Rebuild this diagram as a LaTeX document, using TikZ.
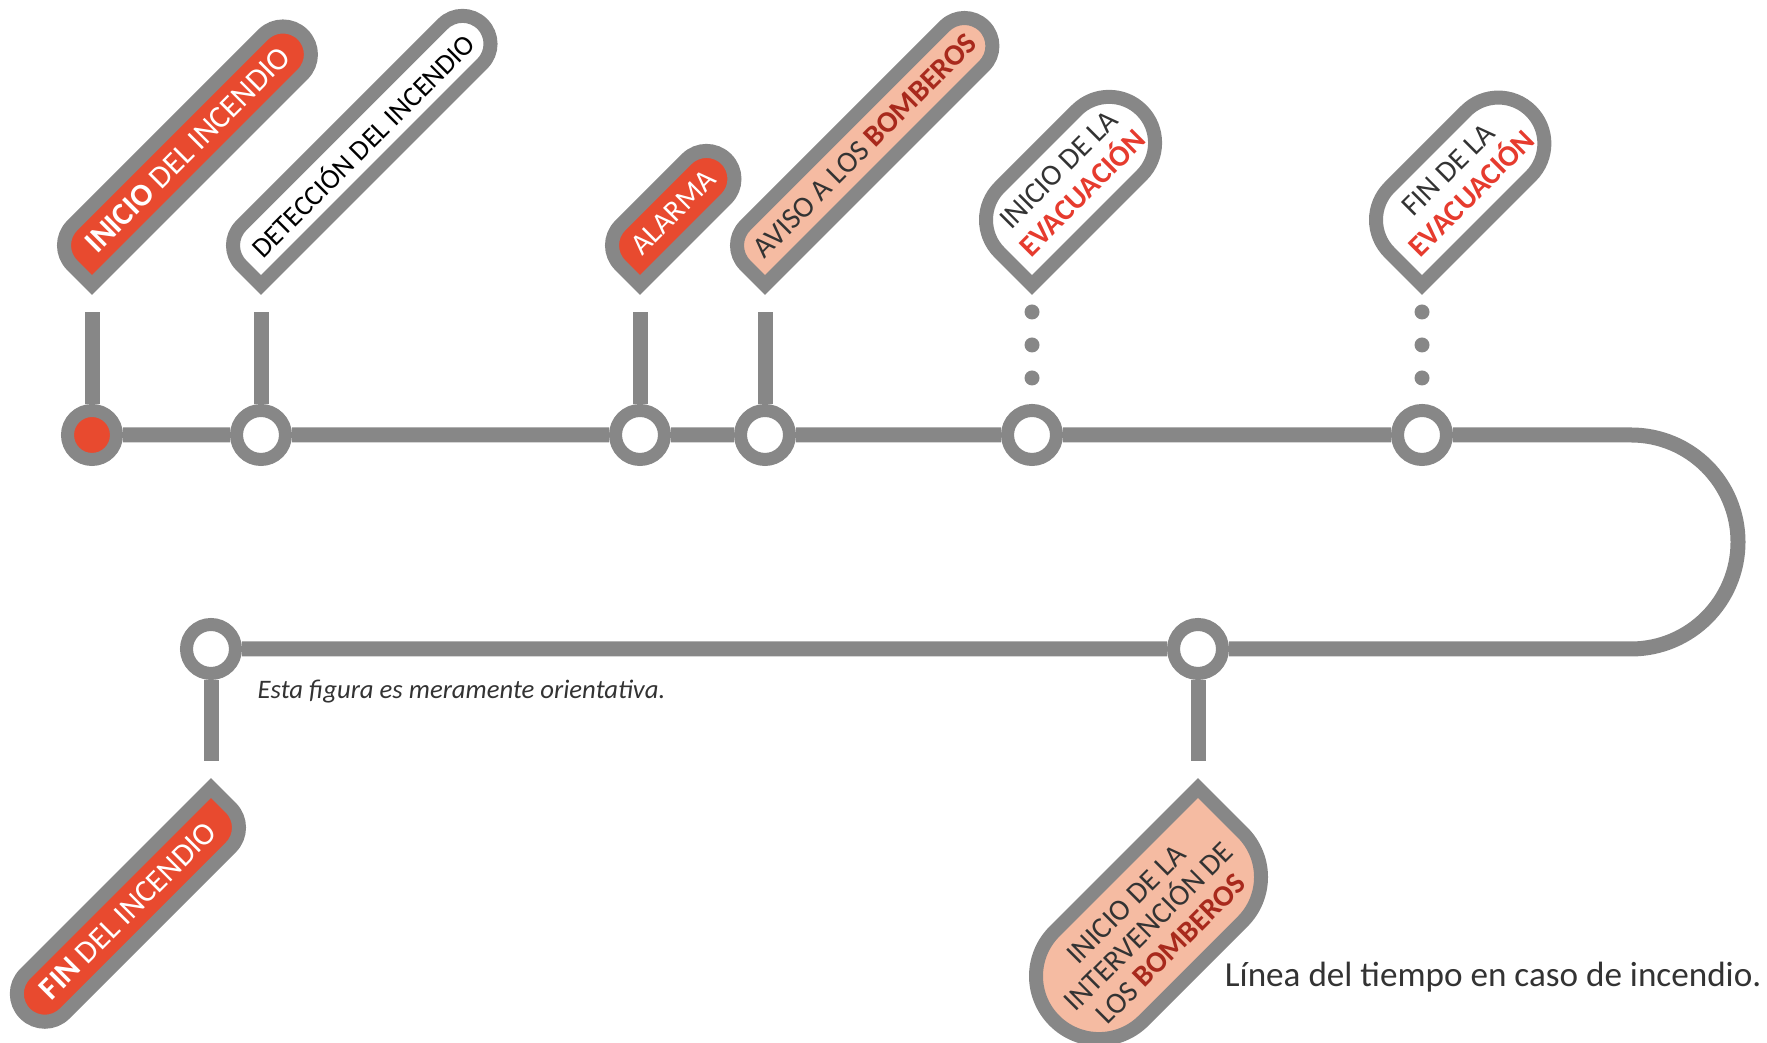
\documentclass[tikz,border=0pt]{standalone}
\usepackage{fontspec}
\setmainfont{Carlito}
\usetikzlibrary{positioning,calc}

\definecolor{railgray}{HTML}{878787}
\definecolor{firered}{HTML}{E84A2F}
\definecolor{salmon}{HTML}{F5BBA2}
\definecolor{darkred}{HTML}{A8291C}
\definecolor{evacred}{HTML}{E63B2E}
\definecolor{inkgray}{HTML}{333333}

\tikzset{
  track/.style={draw=railgray, line width=0.15cm},
  milestone/.style={circle, draw=railgray, line width=0.13cm, minimum size=0.49cm, inner sep=0pt, fill=white},
  pin/.style={draw=railgray, line width=0.14cm},
  pintext/.style={rotate=45, align=center, inner sep=0pt, font=\fontsize{9}{10}\selectfont}
}

\begin{document}
\begin{tikzpicture}
    \useasboundingbox (0,0) rectangle (17.67,10.43);

    % hitos de la linea
    \node[milestone, fill=firered] (inicio) at (0.92,6.08) {};
    \node[milestone] (deteccion) at (2.61,6.08) {};
    \node[milestone] (alarma) at (6.40,6.08) {};
    \node[milestone] (aviso) at (7.65,6.08) {};
    \node[milestone] (evacini) at (10.32,6.08) {};
    \node[milestone] (evacfin) at (14.22,6.08) {};
    \node[milestone] (intervencion) at (11.98,3.94) {};
    \node[milestone] (fin) at (2.11,3.94) {};

    % recorrido
    \coordinate (vuelta) at (16.31,6.08);
    \draw[track] (inicio) -- (deteccion) -- (alarma) -- (aviso) -- (evacini) -- (evacfin)
        -- (vuelta) arc[start angle=90, end angle=-90, radius=1.07] -- (intervencion) -- (fin);

    % palos y puntos
    \foreach \n in {inicio,deteccion,alarma,aviso}
        \draw[track] (\n) -- (\n |- 0,7.31);
    \foreach \n in {intervencion,fin}
        \draw[track] (\n) -- (\n |- 0,2.82);
    \foreach \n in {evacini,evacfin}
        \foreach \y in {7.31,6.98,6.65}
            \fill[railgray] (\n |- 0,\y) circle (0.075);

    % etiquetas de arriba
    \begin{scope}[shift={(0.92,7.58)}, rotate=45]
        \draw[pin, fill=firered] (0,0) -- (2.98,0) arc[start angle=-90, end angle=90, radius=0.28] -- (0.28,0.56) arc[start angle=90, end angle=180, radius=0.28] -- cycle;
        \node[pintext, text=white] (inicio-lbl) at (1.63,0.28) {\textbf{INICIO} DEL INCENDIO};
    \end{scope}
    \begin{scope}[shift={(2.61,7.58)}, rotate=45]
        \draw[pin, fill=white] (0,0) -- (3.13,0) arc[start angle=-90, end angle=90, radius=0.28] -- (0.28,0.56) arc[start angle=90, end angle=180, radius=0.28] -- cycle;
        \node[pintext, text=black, font=\fontsize{8}{9}\selectfont] (deteccion-lbl) at (1.705,0.28) {DETECCIÓN DEL INCENDIO};
    \end{scope}
    \begin{scope}[shift={(6.40,7.58)}, rotate=45]
        \draw[pin, fill=firered] (0,0) -- (1.22,0) arc[start angle=-90, end angle=90, radius=0.28] -- (0.28,0.56) arc[start angle=90, end angle=180, radius=0.28] -- cycle;
        \node[pintext, text=white, font=\fontsize{8.5}{9}\selectfont] (alarma-lbl) at (0.75,0.28) {ALARMA};
    \end{scope}
    \begin{scope}[shift={(7.65,7.58)}, rotate=45]
        \draw[pin, fill=salmon] (0,0) -- (3.10,0) arc[start angle=-90, end angle=90, radius=0.28] -- (0.28,0.56) arc[start angle=90, end angle=180, radius=0.28] -- cycle;
        \node[pintext, text=inkgray, font=\fontsize{8.5}{9}\selectfont] (aviso-lbl) at (1.69,0.28) {AVISO A LOS \textcolor{darkred}{\textbf{BOMBEROS}}};
    \end{scope}
    \begin{scope}[shift={(10.32,7.58)}, rotate=45]
        \draw[pin, fill=white] (0,0) -- (1.55,0) arc[start angle=-90, end angle=90, radius=0.46] -- (0.46,0.92) arc[start angle=90, end angle=180, radius=0.46] -- cycle;
        \node[pintext, text=inkgray, font=\fontsize{8.5}{9.5}\selectfont] (evacini-lbl) at (1.005,0.46) {INICIO DE LA\\\textcolor{evacred}{\textbf{EVACUACIÓN}}};
    \end{scope}
    \begin{scope}[shift={(14.22,7.58)}, rotate=45]
        \draw[pin, fill=white] (0,0) -- (1.54,0) arc[start angle=-90, end angle=90, radius=0.46] -- (0.46,0.92) arc[start angle=90, end angle=180, radius=0.46] -- cycle;
        \node[pintext, text=inkgray, font=\fontsize{8.5}{9.5}\selectfont] (evacfin-lbl) at (1.00,0.46) {FIN DE LA\\\textcolor{evacred}{\textbf{EVACUACIÓN}}};
    \end{scope}

    % etiquetas de abajo
    \begin{scope}[shift={(2.11,2.55)}, rotate=225]
        \draw[pin, fill=firered] (0,0) -- (2.63,0) arc[start angle=-90, end angle=90, radius=0.28] -- (0.28,0.56) arc[start angle=90, end angle=180, radius=0.28] -- cycle;
        \node[pintext, text=white] (fin-lbl) at (1.455,0.28) {\textbf{FIN} DEL INCENDIO};
    \end{scope}
    \begin{scope}[shift={(11.98,2.55)}, rotate=225]
        \draw[pin, fill=salmon] (0,0) -- (2.03,0) arc[start angle=-90, end angle=90, radius=0.63] -- (0.63,1.26) arc[start angle=90, end angle=180, radius=0.63] -- cycle;
        \node[pintext, text=inkgray, font=\fontsize{8.5}{9}\selectfont] (intervencion-lbl) at (1.33,0.63) {INICIO DE LA\\INTERVENCIÓN DE\\LOS \textcolor{darkred}{\textbf{BOMBEROS}}};
    \end{scope}

    % notas
    \node[anchor=west, inner sep=0pt, text=inkgray, font=\itshape\fontsize{7.6}{9}\selectfont] (nota) at (2.57,3.51) {Esta figura es meramente orientativa.};
    \node[anchor=east, inner sep=0pt, text=inkgray, font=\fontsize{10}{12}\selectfont] (titulo) at (17.62,0.66) {Línea del tiempo en caso de incendio.};
\end{tikzpicture}
\end{document}
